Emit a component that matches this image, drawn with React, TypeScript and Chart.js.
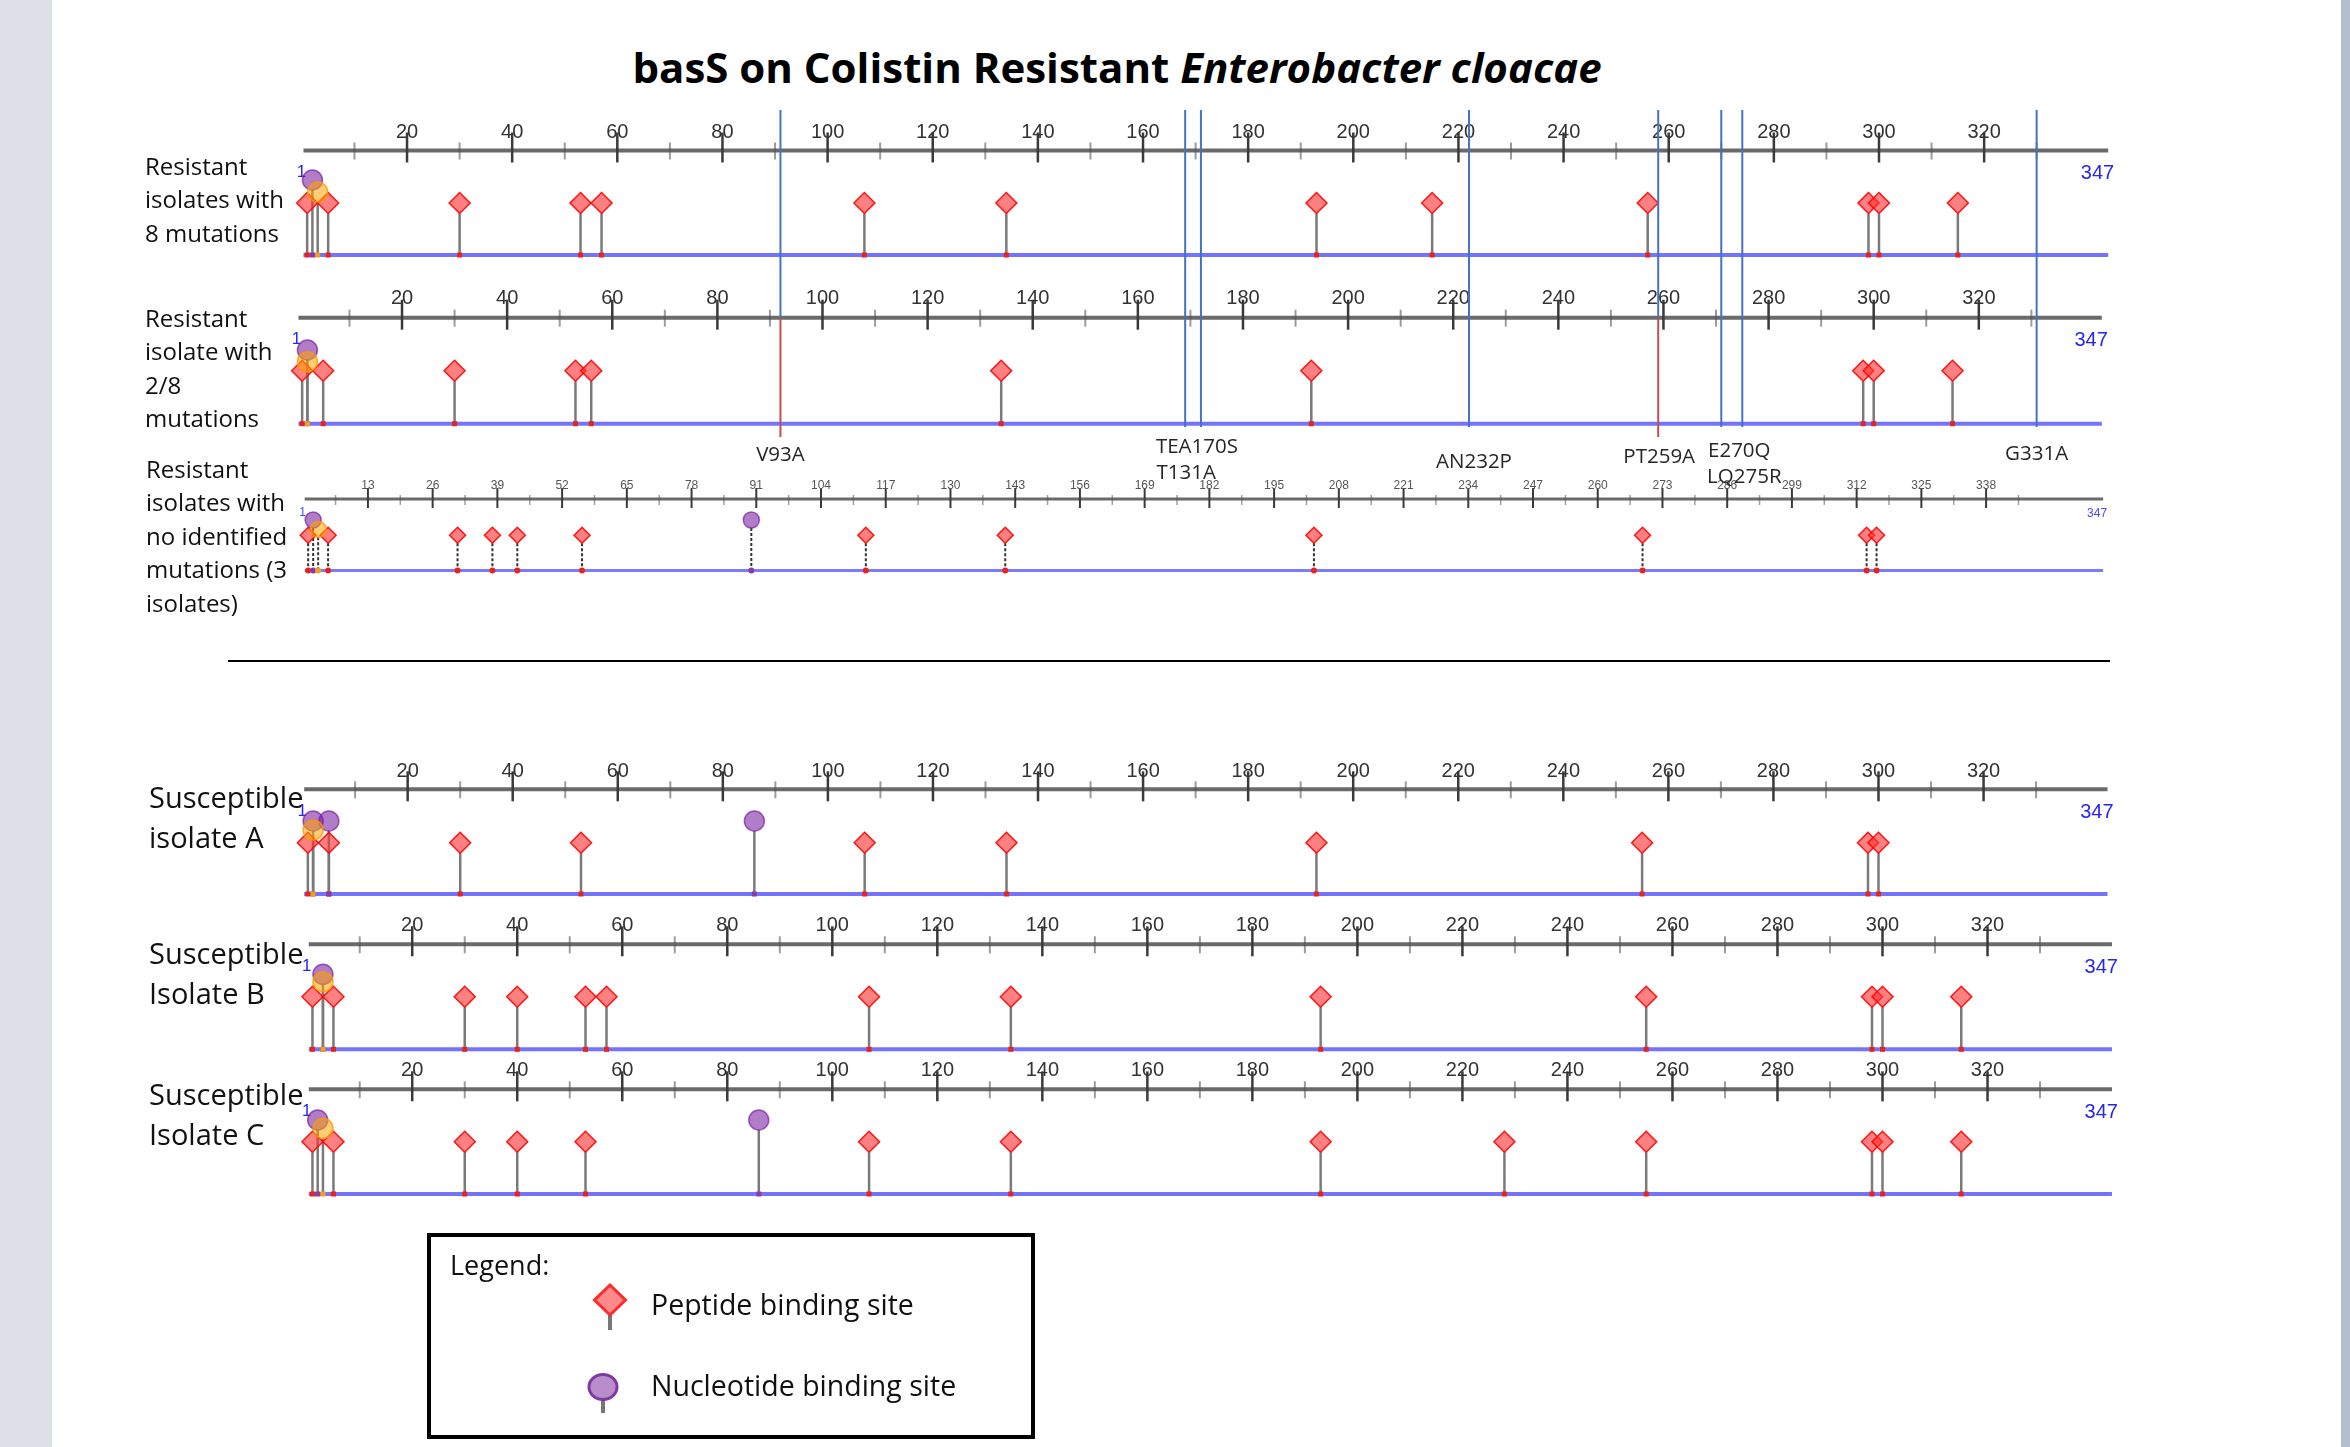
import React, { useEffect, useRef } from 'react';
import { Chart, registerables } from 'chart.js';

Chart.register(...registerables);

const PAGE_W = 2350;
const PAGE_H = 1447;
const PROTEIN_LENGTH = 347;
const RULER_START = 0.3;

// ---- ruler tick labels ----
const MAIN_MAJOR_TICKS = [20, 40, 60, 80, 100, 120, 140, 160, 180, 200, 220, 240, 260, 280, 300, 320];
const MAIN_MINOR_TICKS = [10, 30, 50, 70, 90, 110, 130, 150, 170, 190, 210, 230, 250, 270, 290, 310, 330];
const FINE_MAJOR_TICKS = [13, 26, 39, 52, 65, 78, 91, 104, 117, 130, 143, 156, 169, 182, 195, 208, 221, 234, 247, 260, 273, 286, 299, 312, 325, 338];
const FINE_MINOR_TICKS = [6.5, 19.5, 32.5, 45.5, 58.5, 71.5, 84.5, 97.5, 110.5, 123.5, 136.5, 149.5, 162.5, 175.5, 188.5, 201.5, 214.5, 227.5, 240.5, 253.5, 266.5, 279.5, 292.5, 305.5, 318.5, 331.5, 344.5];

// ---- binding sites per isolate (residue positions) ----
const R8_PEPTIDE = [1, 5, 30, 53, 57, 107, 134, 193, 215, 256, 298, 300, 315];
const R8_NUCLEOTIDE = [2];
const R8_OTHER = [3];

const R28_PEPTIDE = [1, 5, 30, 53, 56, 134, 193, 298, 300, 315];
const R28_NUCLEOTIDE = [2];
const R28_OTHER = [2];

const RN_PEPTIDE = [1, 5, 31, 38, 43, 56, 113, 141, 203, 269, 314, 316];
const RN_NUCLEOTIDE = [2, 90];
const RN_OTHER = [3];

const SA_PEPTIDE = [1, 5, 30, 53, 107, 134, 193, 255, 298, 300];
const SA_NUCLEOTIDE = [2, 5, 86];
const SA_OTHER = [2];

const SB_PEPTIDE = [1, 5, 30, 40, 53, 57, 107, 134, 193, 255, 298, 300, 315];
const SB_NUCLEOTIDE = [3];
const SB_OTHER = [3];

const SC_PEPTIDE = [1, 5, 30, 40, 53, 107, 134, 193, 228, 255, 298, 300, 315];
const SC_NUCLEOTIDE = [2, 86];
const SC_OTHER = [3];

// ---- mutations marked across the resistant tracks ----
const MUTATION_LABELS = ['V93A', 'T131A', 'TEA170S', 'AN232P', 'PT259A', 'E270Q', 'LQ275R', 'G331A'];
const MUTATION_POSITIONS = [92, 169, 172, 223, 259, 271, 275, 331];
const MUTATION_RED_TAIL = [true, false, false, false, true, false, false, false];
const MUTATION_LABEL_DX = [0, 1, -4, 5, 1, 18, 2, 0];
const MUTATION_LABEL_Y = [455, 473, 447, 462, 457, 451, 477, 454];

// ---- layout of tracks (page pixels) ----
const TRACKS = [
  { id: 'r8', axis: 'x1', origin: 301.9, ppr: 5.257, rulerY: 150.5, labelY: 132, backboneY: 255, peptideY: 203, otherY: 192, nucleotideY: 180, fine: false, rulerEnd: 343.6 },
  { id: 'r28', axis: 'x2', origin: 296.9, ppr: 5.256, rulerY: 317.7, labelY: 298, backboneY: 423.7, peptideY: 370.7, otherY: 361.7, nucleotideY: 350, fine: false, rulerEnd: 343.4 },
  { id: 'rn', axis: 'x3', origin: 303.2, ppr: 4.979, rulerY: 499, labelY: 486, backboneY: 570.5, peptideY: 535.3, otherY: 529.3, nucleotideY: 520, fine: true, rulerEnd: 361.5 },
  { id: 'sa', axis: 'xa', origin: 302.6, ppr: 5.253, rulerY: 789.3, labelY: 771, backboneY: 894, peptideY: 842.7, otherY: 830, nucleotideY: 821, fine: false, rulerEnd: 343.6 },
  { id: 'sb', axis: 'xb', origin: 307.2, ppr: 5.251, rulerY: 944.3, labelY: 925, backboneY: 1049.3, peptideY: 996.7, otherY: 981.7, nucleotideY: 974.3, fine: false, rulerEnd: 343.7 },
  { id: 'sc', axis: 'xc', origin: 307.2, ppr: 5.251, rulerY: 1089.3, labelY: 1070, backboneY: 1194, peptideY: 1141.7, otherY: 1128.3, nucleotideY: 1120, fine: false, rulerEnd: 343.7 },
];

const TRACK_SERIES = [
  { peptide: R8_PEPTIDE, nucleotide: R8_NUCLEOTIDE, other: R8_OTHER },
  { peptide: R28_PEPTIDE, nucleotide: R28_NUCLEOTIDE, other: R28_OTHER },
  { peptide: RN_PEPTIDE, nucleotide: RN_NUCLEOTIDE, other: RN_OTHER },
  { peptide: SA_PEPTIDE, nucleotide: SA_NUCLEOTIDE, other: SA_OTHER },
  { peptide: SB_PEPTIDE, nucleotide: SB_NUCLEOTIDE, other: SB_OTHER },
  { peptide: SC_PEPTIDE, nucleotide: SC_NUCLEOTIDE, other: SC_OTHER },
];

const MUT_TOP_Y = 110;
const MUT_BOTTOM_BLUE = 427;
const MUT_BOTTOM_RED = 437;

const MAIN_STYLE = {
  lineColor: 'rgba(80,80,80,0.85)', lineWidth: 4,
  majorColor: '#3a3a3a', majorWidth: 2.5, majorUp: 18, majorDown: 12,
  minorColor: '#9c9c9c', minorWidth: 2, minorUp: 8, minorDown: 9,
  labelFont: '20px "Liberation Sans", Arial, sans-serif', labelColor: '#333333',
  endFont: '20px "Liberation Sans", Arial, sans-serif', endColor: '#2626f2', endDx: 6, endDy: 23,
  startFont: '17px "Liberation Sans", Arial, sans-serif', startDy: 22,
  stemColor: '#7a7a7a', stemWidth: 2.5, stemDash: [] as number[],
  backboneColor: 'rgba(100,100,255,0.9)', backboneWidth: 4,
  peptideRadius: 10.5, circleRadius: 10, baseDot: 5,
};
const FINE_STYLE = {
  lineColor: 'rgba(80,80,80,0.85)', lineWidth: 3,
  majorColor: '#3a3a3a', majorWidth: 2, majorUp: 11, majorDown: 9,
  minorColor: '#a0a0a0', minorWidth: 1.5, minorUp: 4, minorDown: 6,
  labelFont: '12px "Liberation Sans", Arial, sans-serif', labelColor: '#555555',
  endFont: '12px "Liberation Sans", Arial, sans-serif', endColor: '#4848ff', endDx: 4, endDy: 15,
  startFont: '12px "Liberation Sans", Arial, sans-serif', startDy: 14,
  stemColor: '#333333', stemWidth: 2, stemDash: [3, 2],
  backboneColor: 'rgba(100,100,255,0.85)', backboneWidth: 3,
  peptideRadius: 8, circleRadius: 8, baseDot: 3,
};

const KIND_COLORS: Record<string, { fill: string; border: string; dot: string }> = {
  peptide: { fill: 'rgba(255,50,50,0.62)', border: 'rgba(255,0,0,0.9)', dot: '#e8231f' },
  nucleotide: { fill: 'rgba(120,30,160,0.58)', border: 'rgba(120,30,160,0.7)', dot: '#8a3aa8' },
  other: { fill: 'rgba(255,165,0,0.55)', border: 'rgba(255,150,0,0.8)', dot: '#f0a020' },
};

const styleOf = (t: any) => (t.fine ? FINE_STYLE : MAIN_STYLE);

const proteinPlugin = {
  id: 'proteinTracks',
  beforeDatasetsDraw(chart: any) {
    const ctx = chart.ctx;
    const ys = chart.scales.y;
    TRACKS.forEach((t) => {
      const st = styleOf(t);
      const xs = chart.scales[t.axis];
      const px = (v: number) => xs.getPixelForValue(v);
      const ry = ys.getPixelForValue(t.rulerY);
      const major = t.fine ? FINE_MAJOR_TICKS : MAIN_MAJOR_TICKS;
      const minor = t.fine ? FINE_MINOR_TICKS : MAIN_MINOR_TICKS;
      ctx.save();
      ctx.strokeStyle = st.minorColor;
      ctx.lineWidth = st.minorWidth;
      minor.forEach((v) => {
        ctx.beginPath();
        ctx.moveTo(px(v), ry - st.minorUp);
        ctx.lineTo(px(v), ry + st.minorDown);
        ctx.stroke();
      });
      ctx.strokeStyle = st.lineColor;
      ctx.lineWidth = st.lineWidth;
      ctx.beginPath();
      ctx.moveTo(px(RULER_START), ry);
      ctx.lineTo(px(t.rulerEnd), ry);
      ctx.stroke();
      ctx.strokeStyle = st.majorColor;
      ctx.lineWidth = st.majorWidth;
      major.forEach((v) => {
        ctx.beginPath();
        ctx.moveTo(px(v), ry - st.majorUp);
        ctx.lineTo(px(v), ry + st.majorDown);
        ctx.stroke();
      });
      ctx.fillStyle = st.labelColor;
      ctx.font = st.labelFont;
      ctx.textAlign = 'center';
      ctx.textBaseline = 'middle';
      const ly = ys.getPixelForValue(t.labelY);
      major.forEach((v) => ctx.fillText(String(v), px(v), ly));
      ctx.fillStyle = st.endColor;
      ctx.font = st.endFont;
      ctx.textAlign = 'right';
      ctx.fillText(String(PROTEIN_LENGTH), px(t.rulerEnd) + st.endDx, ry + st.endDy);
      ctx.font = st.startFont;
      ctx.textAlign = 'center';
      ctx.fillText('1', px(RULER_START) - 2, ry + st.startDy);
      ctx.restore();
    });
    // stems
    chart.data.datasets.forEach((ds: any, i: number) => {
      if (!ds.kind) return;
      const t = TRACKS[ds.trackIndex];
      const st = styleOf(t);
      const by = ys.getPixelForValue(t.backboneY);
      const meta = chart.getDatasetMeta(i);
      ctx.save();
      ctx.strokeStyle = st.stemColor;
      ctx.lineWidth = st.stemWidth;
      ctx.setLineDash(st.stemDash);
      meta.data.forEach((el: any) => {
        ctx.beginPath();
        ctx.moveTo(el.x, el.y + ds.pointRadius);
        ctx.lineTo(el.x, by);
        ctx.stroke();
      });
      ctx.restore();
    });
  },
  afterDatasetsDraw(chart: any) {
    const ctx = chart.ctx;
    const ys = chart.scales.y;
    // base dots on backbone
    chart.data.datasets.forEach((ds: any, i: number) => {
      if (!ds.kind) return;
      const t = TRACKS[ds.trackIndex];
      const st = styleOf(t);
      const by = ys.getPixelForValue(t.backboneY);
      const meta = chart.getDatasetMeta(i);
      ctx.save();
      ctx.fillStyle = KIND_COLORS[ds.kind].dot;
      meta.data.forEach((el: any) => {
        if (t.fine) {
          ctx.beginPath();
          ctx.arc(el.x, by, st.baseDot, 0, Math.PI * 2);
          ctx.fill();
        } else {
          ctx.fillRect(el.x - st.baseDot / 2, by - st.baseDot / 2, st.baseDot, st.baseDot);
        }
      });
      ctx.restore();
    });
    // mutation marker lines
    const x2 = chart.scales[TRACKS[1].axis];
    const r2y = ys.getPixelForValue(TRACKS[1].rulerY);
    ctx.save();
    MUTATION_POSITIONS.forEach((pos, i) => {
      const x = x2.getPixelForValue(pos);
      ctx.lineWidth = 2;
      ctx.strokeStyle = '#4472c4';
      ctx.beginPath();
      ctx.moveTo(x, ys.getPixelForValue(MUT_TOP_Y));
      ctx.lineTo(x, MUTATION_RED_TAIL[i] ? r2y : ys.getPixelForValue(MUT_BOTTOM_BLUE));
      ctx.stroke();
      if (MUTATION_RED_TAIL[i]) {
        ctx.strokeStyle = '#c0504d';
        ctx.beginPath();
        ctx.moveTo(x, r2y);
        ctx.lineTo(x, ys.getPixelForValue(MUT_BOTTOM_RED));
        ctx.stroke();
      }
      ctx.fillStyle = '#262626';
      ctx.font = '20.5px "Open Sans", sans-serif';
      ctx.textAlign = 'center';
      ctx.textBaseline = 'middle';
      ctx.fillText(MUTATION_LABELS[i], x + MUTATION_LABEL_DX[i], ys.getPixelForValue(MUTATION_LABEL_Y[i]));
    });
    ctx.restore();
  },
};

const trackLabelStyle = (left: number, top: number, size: number, lh: number): React.CSSProperties => ({
  position: 'absolute', left, top, fontSize: size, lineHeight: `${lh}px`, color: '#111',
  whiteSpace: 'nowrap', fontFamily: '"Open Sans", sans-serif',
});

export default function App() {
  const canvasRef = useRef<HTMLCanvasElement>(null);

  useEffect(() => {
    const canvas = canvasRef.current;
    if (!canvas) return;
    const scales: any = {
      y: { type: 'linear', min: 0, max: PAGE_H, reverse: true, display: false, bounds: 'data' },
    };
    TRACKS.forEach((t) => {
      scales[t.axis] = {
        type: 'linear', display: false, bounds: 'data',
        min: -t.origin / t.ppr, max: (PAGE_W - t.origin) / t.ppr,
      };
    });
    const datasets: any[] = [];
    TRACKS.forEach((t, ti) => {
      const st = styleOf(t);
      const series: any = TRACK_SERIES[ti];
      datasets.push({
        label: `${t.id} backbone`,
        data: [{ x: RULER_START, y: t.backboneY }, { x: t.rulerEnd, y: t.backboneY }],
        xAxisID: t.axis, yAxisID: 'y', showLine: true, borderColor: st.backboneColor,
        borderWidth: st.backboneWidth, pointRadius: 0, order: 10,
      });
      const kinds = [
        { kind: 'peptide', label: 'Peptide binding site', yKey: 'peptideY', style: 'rectRot', r: st.peptideRadius, order: 3 },
        { kind: 'nucleotide', label: 'Nucleotide binding site', yKey: 'nucleotideY', style: 'circle', r: st.circleRadius, order: 2 },
        { kind: 'other', label: 'Other binding site', yKey: 'otherY', style: 'circle', r: st.circleRadius, order: 1 },
      ];
      kinds.forEach((k) => {
        const vals: number[] = series[k.kind];
        datasets.push({
          label: k.label,
          kind: k.kind,
          trackIndex: ti,
          data: vals.map((v) => ({ x: v, y: (t as any)[k.yKey] })),
          xAxisID: t.axis, yAxisID: 'y',
          pointStyle: k.style, pointRadius: k.r,
          backgroundColor: KIND_COLORS[k.kind].fill,
          borderColor: KIND_COLORS[k.kind].border,
          borderWidth: 1.5, order: k.order,
        });
      });
    });
    const chart = new Chart(canvas, {
      type: 'scatter',
      data: { datasets },
      options: {
        animation: false, responsive: false, devicePixelRatio: 1, events: [],
        layout: { padding: 0, autoPadding: false },
        scales,
        plugins: { legend: { display: false }, tooltip: { enabled: false } },
      },
      plugins: [proteinPlugin],
    } as any);
    return () => chart.destroy();
  }, []);

  return (
    <div style={{ position: 'absolute', left: 0, top: 0, width: PAGE_W, height: PAGE_H, background: '#fff', overflow: 'hidden', fontFamily: '"Open Sans", sans-serif' }}>
      <div style={{ position: 'absolute', left: 0, top: 0, width: 52, height: PAGE_H, background: '#dde1e7' }} />
      <div style={{ position: 'absolute', left: 2341, top: 0, width: 9, height: PAGE_H, background: '#b5bdcc' }} />
      <div style={{ position: 'absolute', left: 0, top: 42, width: 2234, textAlign: 'center', fontSize: 42, lineHeight: '50px', fontWeight: 700, color: '#000', whiteSpace: 'nowrap' }}>
        basS on Colistin Resistant <i>Enterobacter cloacae</i>
      </div>
      <div style={{ position: 'absolute', left: 228, top: 660, width: 1882, height: 2, background: '#000' }} />
      <canvas ref={canvasRef} width={PAGE_W} height={PAGE_H} style={{ position: 'absolute', left: 0, top: 0, width: PAGE_W, height: PAGE_H }} />

      <div style={trackLabelStyle(145, 149, 24, 33.4)}>Resistant<br />isolates with<br />8 mutations</div>
      <div style={trackLabelStyle(145, 301, 24, 33.4)}>Resistant<br />isolate with<br />2/8<br />mutations</div>
      <div style={trackLabelStyle(146, 452, 24, 33.4)}>Resistant<br />isolates with<br />no identified<br />mutations (3<br />isolates)</div>
      <div style={trackLabelStyle(149, 777, 29, 40)}>Susceptible<br />isolate A</div>
      <div style={trackLabelStyle(149, 933, 29, 40)}>Susceptible<br />Isolate B</div>
      <div style={trackLabelStyle(149, 1074, 29, 40)}>Susceptible<br />Isolate C</div>

      <div style={{ position: 'absolute', left: 427, top: 1233, width: 608, height: 206, border: '4px solid #000', boxSizing: 'border-box' }} />
      <div style={trackLabelStyle(450, 1247, 27, 36)}>Legend:</div>
      <svg style={{ position: 'absolute', left: 589.5, top: 1282, overflow: 'visible' }} width={40} height={52}>
        <line x1={20} y1={32} x2={20} y2={48} stroke="#777" strokeWidth={4} />
        <polygon points="20,3 35.5,18 20,33 4.5,18" fill="#ff8a8a" stroke="#ff2a2a" strokeWidth={3} />
      </svg>
      <div style={trackLabelStyle(651, 1285, 28.5, 38)}>Peptide binding site</div>
      <svg style={{ position: 'absolute', left: 583.3, top: 1370.7, overflow: 'visible' }} width={40} height={46}>
        <line x1={20} y1={28} x2={20} y2={42} stroke="#777" strokeWidth={4} />
        <ellipse cx={20} cy={16} rx={14} ry={12.5} fill="#b98ccb" stroke="#7f3a9f" strokeWidth={3} />
      </svg>
      <div style={trackLabelStyle(651, 1366, 28.5, 38)}>Nucleotide binding site</div>
    </div>
  );
}
